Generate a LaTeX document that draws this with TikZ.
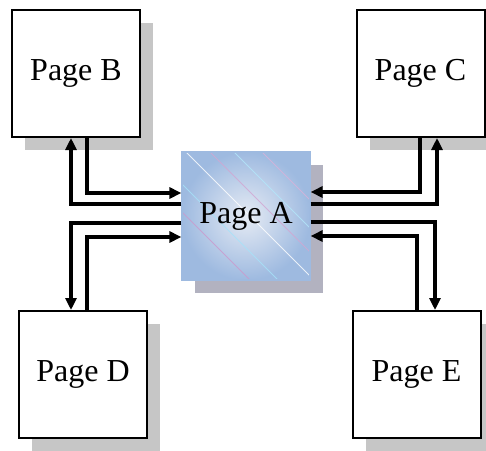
\documentclass[tikz,border=0pt]{standalone}
\usepackage{fontspec}
\setmainfont{Liberation Serif}
\usetikzlibrary{arrows.meta,positioning,shadows,patterns}
\definecolor{hubmid}{RGB}{230,235,244}
\definecolor{hubedge}{RGB}{158,186,224}

\begin{document}
\begin{tikzpicture}[x=0.5pt, y=-0.5pt, >={Triangle[length=6pt,width=5.5pt]}, on grid,
		font=\fontsize{16}{18}\selectfont]
			\tikzstyle{page} = [draw, line width=1pt, fill=white, minimum width=64pt, minimum height=63.5pt, inner sep=0pt,
				general shadow={shadow xshift=6.5pt, shadow yshift=-6.5pt, fill=gray!45}]
			\tikzstyle{hub} = [draw=hubedge, line width=0.6pt, minimum size=64pt, inner sep=0pt,
				inner color=hubmid, outer color=hubedge,
				general shadow={shadow xshift=6.5pt, shadow yshift=-6.5pt, fill=blue!10!gray!55},
				path picture={
					\foreach \o/\c in {-30/violet!40, -16/cyan!35, 2/white, 14/violet!35, 26/cyan!30, 40/violet!30}
						\draw[\c, line width=0.4pt, opacity=0.8] ([shift={(\o pt-40pt,40pt)}]path picture bounding box.center) -- ++(80pt,-80pt);
				}]
			\tikzstyle{link} = [->, line width=2pt]
			\tikzstyle{vh} = [to path={|- (\tikztotarget)}]
			\tikzstyle{hv} = [to path={-| (\tikztotarget)}]

			\useasboundingbox (0,0) rectangle (486,450);

			\path
			node[page] (b) at (76,73.5) {Page B}
			node[page, right=172.25pt of b] (c) {Page C}
			node[hub, below right=71.25pt and 85pt of b] (a) {Page A}
			node[page, below=150.5pt of b, xshift=3.5pt] (d) {Page D}
			node[page, below=150.5pt of c, xshift=-2pt] (e) {Page E}
			% left pair
			([xshift=5.5pt]b.south) edge[link, vh] ([yshift=11.5pt]a.west)
			([yshift=6pt]a.west) edge[link, hv] ([xshift=-2.5pt]b.south)
			([yshift=-3.5pt]a.west) edge[link, hv] ([xshift=-6pt]d.north)
			([xshift=2pt]d.north) edge[link, vh] ([yshift=-10.5pt]a.west)
			% right pair
			([xshift=-0.25pt]c.south) edge[link, vh] ([yshift=12pt]a.east)
			([yshift=6pt]a.east) edge[link, hv] ([xshift=8.25pt]c.south)
			([yshift=-3pt]a.east) edge[link, hv] ([xshift=9.25pt]e.north)
			([xshift=0.25pt]e.north) edge[link, vh] ([yshift=-10pt]a.east)
			;
\end{tikzpicture}
\end{document}
